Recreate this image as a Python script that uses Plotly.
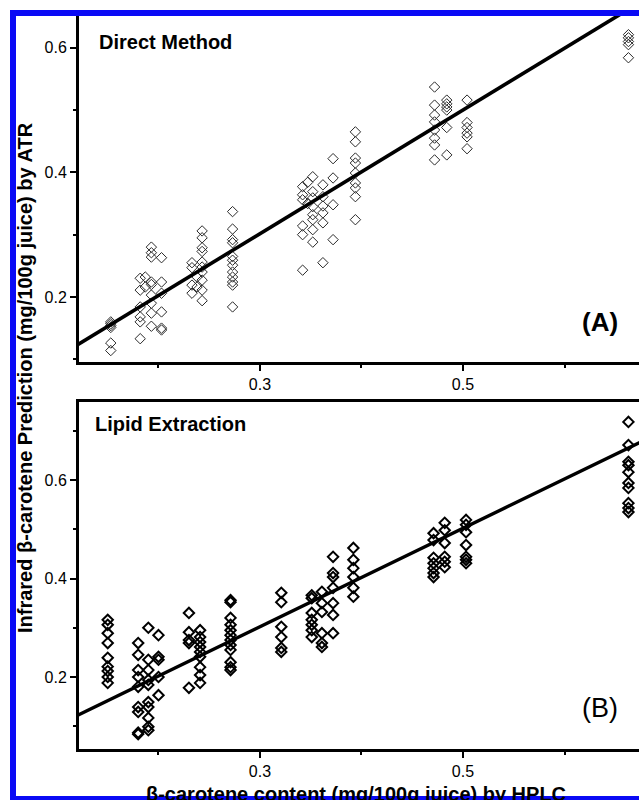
import plotly.graph_objects as go

# ---------------- data ----------------
# Panel A: Direct Method  -- HPLC column positions and ATR predictions
a_hplc_cols = [0.153, 0.182, 0.187, 0.193, 0.203, 0.233, 0.238, 0.243, 0.273,
               0.342, 0.347, 0.352, 0.362, 0.372, 0.394, 0.472, 0.484, 0.504, 0.663]
a_atr_cols = [
    [0.160, 0.157, 0.154, 0.151, 0.126, 0.114],
    [0.230, 0.211, 0.184, 0.168, 0.160, 0.133],
    [0.216, 0.232],
    [0.280, 0.271, 0.264, 0.224, 0.220, 0.203, 0.190, 0.174, 0.153],
    [0.263, 0.224, 0.206, 0.176, 0.150, 0.147],
    [0.255, 0.247, 0.219, 0.206],
    [0.232, 0.216],
    [0.306, 0.295, 0.279, 0.273, 0.256, 0.248, 0.240, 0.227, 0.211, 0.194],
    [0.337, 0.309, 0.292, 0.287, 0.265, 0.259, 0.251, 0.240, 0.232, 0.224, 0.219, 0.184],
    [0.377, 0.364, 0.356, 0.314, 0.300, 0.243],
    [0.384, 0.350],
    [0.393, 0.369, 0.359, 0.345, 0.332, 0.324, 0.308, 0.288],
    [0.380, 0.361, 0.346, 0.335, 0.319, 0.255],
    [0.422, 0.391, 0.348, 0.292],
    [0.465, 0.449, 0.423, 0.415, 0.399, 0.383, 0.375, 0.361, 0.324],
    [0.537, 0.508, 0.492, 0.481, 0.468, 0.455, 0.444, 0.420],
    [0.516, 0.510, 0.505, 0.500, 0.472, 0.428],
    [0.516, 0.480, 0.472, 0.463, 0.457, 0.438],
    [0.621, 0.616, 0.610, 0.605, 0.584],
]

# Panel B: Lipid Extraction
b_hplc_cols = [0.150, 0.180, 0.190, 0.200, 0.230, 0.241, 0.271, 0.321, 0.351,
               0.361, 0.372, 0.392, 0.471, 0.482, 0.503, 0.663]
b_atr_cols = [
    [0.316, 0.306, 0.289, 0.269, 0.239, 0.221, 0.212, 0.200, 0.188],
    [0.269, 0.245, 0.214, 0.200, 0.180, 0.139, 0.129, 0.084, 0.087],
    [0.300, 0.235, 0.214, 0.194, 0.184, 0.149, 0.139, 0.117, 0.099, 0.092],
    [0.285, 0.241, 0.235, 0.200, 0.163],
    [0.330, 0.291, 0.275, 0.269, 0.178],
    [0.295, 0.281, 0.271, 0.261, 0.251, 0.241, 0.220, 0.204, 0.188],
    [0.356, 0.352, 0.320, 0.306, 0.295, 0.285, 0.275, 0.265, 0.255, 0.230, 0.220, 0.214],
    [0.371, 0.352, 0.302, 0.281, 0.259, 0.251],
    [0.366, 0.360, 0.330, 0.316, 0.306, 0.295, 0.281],
    [0.373, 0.350, 0.332, 0.289, 0.269, 0.261],
    [0.444, 0.411, 0.403, 0.381, 0.350, 0.326, 0.289],
    [0.462, 0.438, 0.421, 0.403, 0.381, 0.363],
    [0.492, 0.478, 0.442, 0.431, 0.421, 0.411, 0.403],
    [0.513, 0.498, 0.472, 0.444, 0.434, 0.423],
    [0.519, 0.509, 0.494, 0.468, 0.444, 0.438, 0.431],
    [0.718, 0.671, 0.637, 0.630, 0.616, 0.594, 0.584, 0.553, 0.543, 0.535],
]

# regression lines (slope, intercept) and their x extent
fit_a = (0.992, 0.004)
fit_b = (1.000, 0.002)
fit_x = [0.10, 0.70]

x_tickvals = [0.3, 0.5]
y_tickvals = [0.2, 0.4, 0.6]
x_range = [0.1217, 0.6734]
ya_range = [0.0956, 0.651]
yb_range = [0.0538, 0.7584]

# ---------------- build ----------------
def flatten(cols, vals):
    xs, ys = [], []
    for x, yl in zip(cols, vals):
        for y in yl:
            xs.append(x)
            ys.append(y)
    return xs, ys

ax, ay = flatten(a_hplc_cols, a_atr_cols)
bx, by = flatten(b_hplc_cols, b_atr_cols)

W, H = 639, 800
FONT = "Liberation Sans, Arial, sans-serif"

fig = go.Figure()
fig.add_trace(go.Scatter(x=ax, y=ay, mode="markers", xaxis="x", yaxis="y",
                         marker=dict(symbol="diamond-open", size=8, color="#2a2a2a",
                                     line=dict(width=1)), showlegend=False))
fig.add_trace(go.Scatter(x=fit_x, y=[fit_a[0] * v + fit_a[1] for v in fit_x],
                         mode="lines", xaxis="x", yaxis="y",
                         line=dict(color="black", width=3.6), showlegend=False))
fig.add_trace(go.Scatter(x=bx, y=by, mode="markers", xaxis="x2", yaxis="y2",
                         marker=dict(symbol="diamond-open", size=8, color="black",
                                     line=dict(width=2)), showlegend=False))
fig.add_trace(go.Scatter(x=fit_x, y=[fit_b[0] * v + fit_b[1] for v in fit_x],
                         mode="lines", xaxis="x2", yaxis="y2",
                         line=dict(color="black", width=3.4), showlegend=False))

def px_x(p):
    return p / W

def px_y(p):
    return 1 - p / H

common = dict(showgrid=False, zeroline=False, showline=True, linecolor="black",
              linewidth=3, ticks="outside", ticklen=6, tickwidth=2, tickcolor="black",
              tickfont=dict(family=FONT, size=16, color="black"))
minor = dict(ticks="outside", ticklen=3, tickwidth=2, tickcolor="black", dtick=0.1)

xdom = [px_x(79), 1.0]
fig.update_layout(
    width=W, height=H, margin=dict(l=0, r=0, t=0, b=0),
    paper_bgcolor="white", plot_bgcolor="white",
    xaxis=dict(domain=xdom, range=x_range, anchor="y", tickvals=x_tickvals,
               ticktext=["0.3", "0.5"], minor=dict(minor, tick0=0.0), **common),
    yaxis=dict(domain=[px_y(362), px_y(16)], range=ya_range, anchor="x",
               tickvals=y_tickvals, ticktext=["0.2", "0.4", "0.6"],
               minor=dict(minor, tick0=0.0), **common),
    xaxis2=dict(domain=xdom, range=x_range, anchor="y2", tickvals=x_tickvals,
                ticktext=["0.3", "0.5"], minor=dict(minor, tick0=0.0), mirror=True, **common),
    yaxis2=dict(domain=[px_y(749), px_y(402)], range=yb_range, anchor="x2",
                tickvals=y_tickvals, ticktext=["0.2", "0.4", "0.6"],
                minor=dict(minor, tick0=0.0), **common),
)

ann = []
ann.append(dict(text="<b>Direct Method</b>", x=px_x(97), y=px_y(42), xref="paper", yref="paper",
                xanchor="left", yanchor="middle", showarrow=False,
                font=dict(family=FONT, size=20, color="black")))
ann.append(dict(text="<b>Lipid Extraction</b>", x=px_x(93), y=px_y(424), xref="paper", yref="paper",
                xanchor="left", yanchor="middle", showarrow=False,
                font=dict(family=FONT, size=20, color="black")))
ann.append(dict(text="<b>(A)</b>", x=px_x(600), y=px_y(322), xref="paper", yref="paper",
                xanchor="center", yanchor="middle", showarrow=False,
                font=dict(family=FONT, size=26, color="black")))
ann.append(dict(text="(B)", x=px_x(600), y=px_y(708), xref="paper", yref="paper",
                xanchor="center", yanchor="middle", showarrow=False,
                font=dict(family=FONT, size=27, color="black")))
ann.append(dict(text="<b>Infrared β-carotene Prediction (mg/100g juice) by ATR</b>",
                x=px_x(25), y=px_y(378), xref="paper", yref="paper", textangle=-90,
                xanchor="center", yanchor="middle", showarrow=False,
                font=dict(family=FONT, size=20, color="black")))
ann.append(dict(text="<b>β-carotene content (mg/100g juice) by HPLC</b>",
                x=px_x(356), y=px_y(781), xref="paper", yref="paper",
                xanchor="center", yanchor="top", showarrow=False,
                font=dict(family=FONT, size=20, color="black")))
fig.update_layout(annotations=ann)

BLUE = "#0a0af5"
shapes = [
    dict(type="rect", xref="paper", yref="paper", x0=px_x(10), x1=1.01, y0=px_y(16), y1=px_y(10),
         fillcolor=BLUE, line=dict(width=0), layer="above"),
    dict(type="rect", xref="paper", yref="paper", x0=px_x(10), x1=px_x(16), y0=px_y(801), y1=px_y(10),
         fillcolor=BLUE, line=dict(width=0), layer="above"),
    dict(type="rect", xref="paper", yref="paper", x0=px_x(10), x1=1.01, y0=px_y(801), y1=px_y(796),
         fillcolor=BLUE, line=dict(width=0), layer="above"),
]
fig.update_layout(shapes=shapes)

fig.write_html("out.html", config={"displayModeBar": False},
               post_script="document.body.style.margin='0';document.body.style.overflow='hidden';")
